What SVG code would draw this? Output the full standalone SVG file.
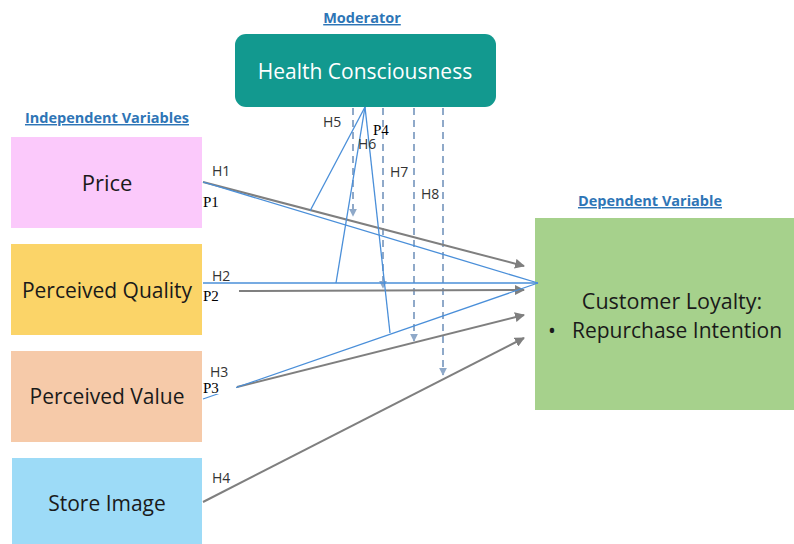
<svg xmlns="http://www.w3.org/2000/svg" width="794" height="544" viewBox="0 0 794 544">
  <defs>
    <marker id="grayArrow" viewBox="0 0 10 10" refX="9" refY="5" markerWidth="5" markerHeight="5" orient="auto" markerUnits="strokeWidth">
      <path d="M0,0 L10,5 L0,10 z" fill="#7f7f7f"/>
    </marker>
    <marker id="dashArrow" viewBox="0 0 10 10" refX="9" refY="5" markerWidth="4" markerHeight="4" orient="auto" markerUnits="strokeWidth">
      <path d="M0,0 L10,5 L0,10 z" fill="#8fa9c9"/>
    </marker>
  </defs>
  <style>
    .box-label { font-family: "Open Sans", "Liberation Sans", sans-serif; fill: #1a1a1a; text-anchor: middle; }
    .heading { font-family: "Open Sans", "Liberation Sans", sans-serif; font-weight: bold; font-size: 14.5px; fill: #2e75b6; text-anchor: middle; text-decoration: underline; }
    .hlab { font-family: "Open Sans", "Liberation Sans", sans-serif; font-size: 14px; fill: #333333; }
    .plab { font-family: "Liberation Serif", serif; font-size: 15px; fill: #000; }
    .gray { stroke: #7f7f7f; stroke-width: 2; fill: none; marker-end: url(#grayArrow); }
    .blue { stroke: #4a8fd9; stroke-width: 1.3; fill: none; }
    .dash { stroke: #8fa9c9; stroke-width: 2; stroke-dasharray: 7 5; fill: none; marker-end: url(#dashArrow); }
  </style>
  <rect width="794" height="544" fill="#ffffff"/>

  <!-- headings -->
  <text class="heading" x="362" y="23">Moderator</text>
  <text class="heading" x="107" y="123">Independent Variables</text>
  <text class="heading" x="650" y="206">Dependent Variable</text>

  <!-- nodes -->
  <g id="health-consciousness">
    <rect x="235" y="34" width="261" height="73" rx="11" fill="#12998f"/>
    <text class="box-label" x="365" y="79" font-size="21" style="fill:#ffffff">Health Consciousness</text>
  </g>
  <g id="price">
    <rect x="11" y="137" width="191" height="91" fill="#fbc9fb"/>
    <text class="box-label" x="107" y="191" font-size="22">Price</text>
  </g>
  <g id="perceived-quality">
    <rect x="11" y="244" width="191" height="91" fill="#fbd468"/>
    <text class="box-label" x="107" y="298" font-size="21">Perceived Quality</text>
  </g>
  <g id="perceived-value">
    <rect x="11" y="351" width="191" height="91" fill="#f6caa9"/>
    <text class="box-label" x="107" y="404" font-size="21">Perceived Value</text>
  </g>
  <g id="store-image">
    <rect x="12" y="458" width="190" height="90" fill="#9ddbf7"/>
    <text class="box-label" x="107" y="511" font-size="21">Store Image</text>
  </g>
  <g id="customer-loyalty">
    <rect x="535" y="218" width="259" height="192" fill="#a6d18c"/>
    <text class="box-label" x="672" y="309" font-size="21.5">Customer Loyalty:</text>
    <text class="box-label" x="548" y="338" font-size="21" style="text-anchor:start">•</text>
    <text class="box-label" x="677" y="338" font-size="21">Repurchase Intention</text>
  </g>

  <!-- connectors -->
  <g id="connectors">
    <!-- moderating effects (dashed) -->
    <line class="dash" x1="353" y1="108" x2="353" y2="216"/>
    <line class="dash" x1="383" y1="108" x2="383" y2="288"/>
    <line class="dash" x1="414" y1="108" x2="414" y2="341"/>
    <line class="dash" x1="443" y1="108" x2="443" y2="375"/>

    <!-- direct effects -->
    <line class="gray" x1="203" y1="182" x2="524" y2="266"/>
    <line class="gray" x1="239" y1="291" x2="524" y2="290"/>
    <line class="gray" x1="237" y1="387" x2="524" y2="315"/>
    <line class="gray" x1="203" y1="502" x2="524" y2="338"/>

    <!-- propositions -->
    <line class="blue" x1="203" y1="182" x2="538" y2="283"/>
    <line class="blue" x1="203" y1="283" x2="538" y2="283"/>
    <line class="blue" x1="203" y1="399" x2="538" y2="283"/>
    <line class="blue" x1="365" y1="107" x2="310" y2="211"/>
    <line class="blue" x1="365" y1="107" x2="336" y2="283"/>
    <line class="blue" x1="365" y1="107" x2="390" y2="333"/>
  </g>

  <!-- path labels -->
  <g id="labels">
    <text class="hlab" x="212" y="176">H1</text>
    <text class="hlab" x="212" y="281">H2</text>
    <text class="hlab" x="210" y="377">H3</text>
    <rect x="202" y="379" width="34" height="15" fill="#ffffff"/>
    <text class="hlab" x="212" y="483">H4</text>
    <text class="hlab" x="323" y="127">H5</text>
    <text class="hlab" x="358" y="149">H6</text>
    <text class="hlab" x="390" y="177">H7</text>
    <text class="hlab" x="421" y="199">H8</text>
    <text class="plab" x="203" y="207">P1</text>
    <text class="plab" x="203" y="301">P2</text>
    <text class="plab" x="203" y="393">P3</text>
    <text class="plab" x="373" y="135">P4</text>
  </g>
</svg>
